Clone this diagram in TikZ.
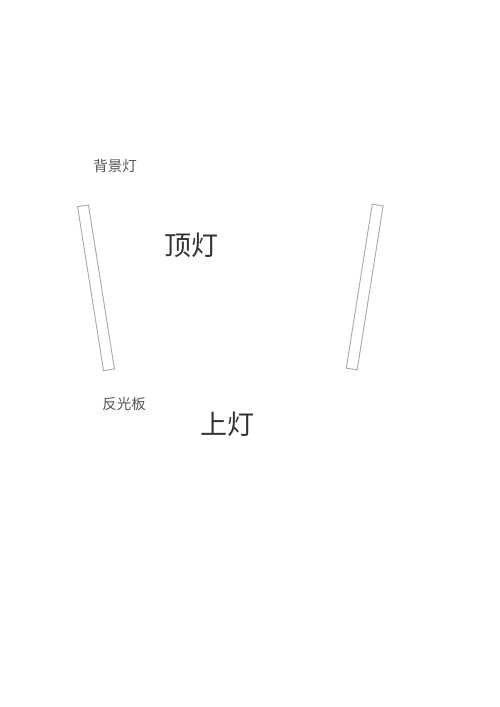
\documentclass[tikz,border=0pt]{standalone}
\usepackage{fontspec}
\setmainfont{Noto Sans CJK SC}
\usepackage{tikz}

\definecolor{panelgray}{HTML}{A8A8A8}
\definecolor{bigtext}{HTML}{333333}
\definecolor{smalltext}{HTML}{555555}

\begin{document}
\begin{tikzpicture}[
    x=1pt, y=-1pt,
    panel/.style={rectangle, draw=panelgray, line width=0.9pt, fill=white,
                  minimum width=11pt, minimum height=166pt, inner sep=0pt},  % Style for the reflector boards
    biglabel/.style={text=bigtext, font=\fontsize{27}{30}\selectfont, inner sep=0pt},   % Style for the main lights
    smalllabel/.style={text=smalltext, font=\fontsize{14.5}{16}\selectfont, inner sep=0pt} % Style for the small labels
    ]
    \useasboundingbox (0,0) rectangle (500,707);

    % Boards on both sides
    \node[panel, rotate=9] (leftboard) at (96,287.8) {};
    \node[panel, rotate=-9] (rightboard) at (364.7,287) {};

    % Labels
    \node[smalllabel] (backlight) at (115,165.5) {背景灯};
    \node[biglabel] (toplight) at (191,245.5) {顶灯};
    \node[smalllabel] (reflector) at (124,404) {反光板};
    \node[biglabel] (upperlight) at (227.5,424) {上灯};

\end{tikzpicture}
\end{document}
